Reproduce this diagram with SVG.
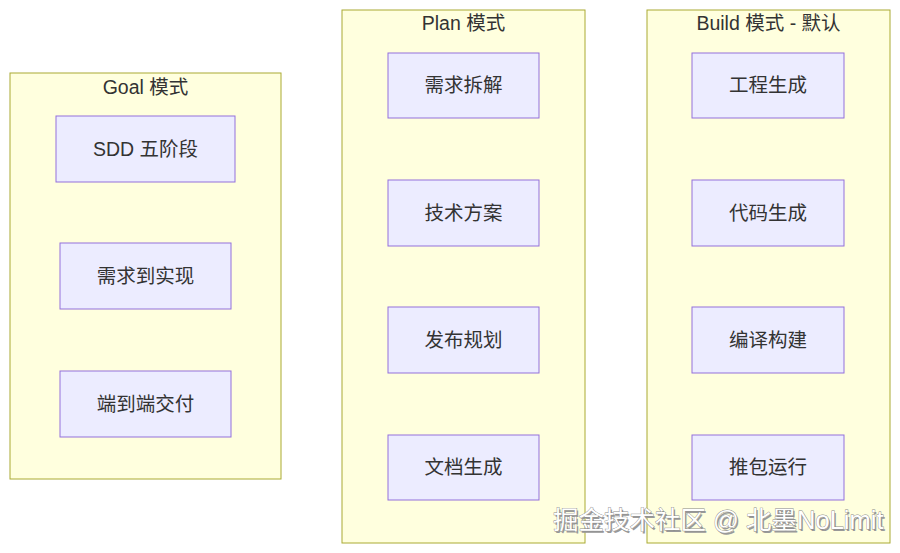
<svg xmlns="http://www.w3.org/2000/svg" width="900" height="553" viewBox="0 0 900 553">
<style>
.cluster{fill:#ffffde;stroke:#aaaa33;stroke-width:1}
.node{fill:#ececff;stroke:#9370db;stroke-width:1}
text{font-family:"Liberation Sans","Noto Sans CJK SC",sans-serif;fill:#333;font-size:19.5px;text-anchor:middle;dominant-baseline:central}
.wm{font-size:25.5px;fill:#fff;stroke:#888;stroke-width:0.8;paint-order:stroke;text-anchor:start}
.wms{font-size:25.5px;fill:#999;text-anchor:start}
</style>
<rect width="900" height="553" fill="#fff"/>
<g id="goal">
<rect class="cluster" x="10" y="73" width="271" height="406"/>
<text x="145.5" y="87">Goal 模式</text>
</g>
<g id="plan">
<rect class="cluster" x="342" y="10" width="243" height="533"/>
<text x="463.5" y="23">Plan 模式</text>
</g>
<g id="build">
<rect class="cluster" x="647" y="10" width="243" height="533"/>
<text x="768.5" y="23">Build 模式 - 默认</text>
</g>
<g id="g1"><rect class="node" x="56" y="116" width="179" height="66"/><text x="145.5" y="148.5">SDD 五阶段</text></g>
<g id="g2"><rect class="node" x="60" y="243" width="171" height="66"/><text x="145.5" y="275.5">需求到实现</text></g>
<g id="g3"><rect class="node" x="60" y="371" width="171" height="66"/><text x="145.5" y="403.5">端到端交付</text></g>
<g id="p1"><rect class="node" x="388" y="53" width="151" height="65"/><text x="463.5" y="85">需求拆解</text></g>
<g id="p2"><rect class="node" x="388" y="180" width="151" height="66"/><text x="463.5" y="212.5">技术方案</text></g>
<g id="p3"><rect class="node" x="388" y="307" width="151" height="66"/><text x="463.5" y="339.5">发布规划</text></g>
<g id="p4"><rect class="node" x="388" y="435" width="151" height="65"/><text x="463.5" y="467">文档生成</text></g>
<g id="b1"><rect class="node" x="692" y="53" width="152" height="65"/><text x="768" y="85">工程生成</text></g>
<g id="b2"><rect class="node" x="692" y="180" width="152" height="66"/><text x="768" y="212.5">代码生成</text></g>
<g id="b3"><rect class="node" x="692" y="307" width="152" height="66"/><text x="768" y="339.5">编译构建</text></g>
<g id="b4"><rect class="node" x="692" y="435" width="152" height="65"/><text x="768" y="467">推包运行</text></g>
<g id="connectors"></g>
<text class="wms" x="554.5" y="521.5">掘金技术社区 @ 北墨NoLimit</text>
<text class="wm" x="553" y="520">掘金技术社区 @ 北墨NoLimit</text>
</svg>
